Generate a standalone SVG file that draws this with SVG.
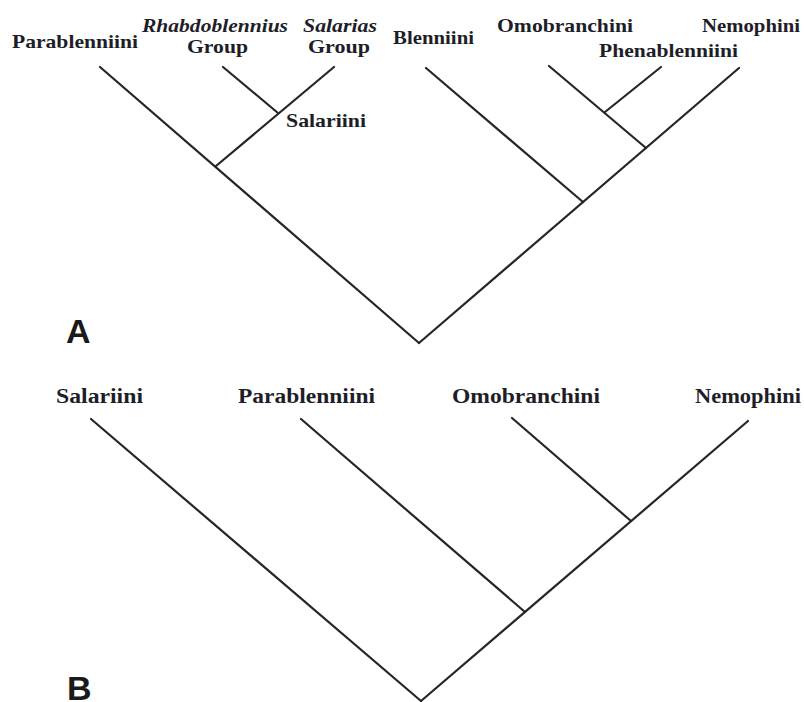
<svg xmlns="http://www.w3.org/2000/svg" width="804" height="702" viewBox="0 0 804 702">
<style>
.lbl{font-family:"Liberation Serif","Times New Roman",serif;font-weight:bold;fill:#1e1e28;text-anchor:start}
.a{font-size:19px}
.b{font-size:20.5px}
.it{font-style:italic}
.pan{font-family:"Liberation Sans",Arial,sans-serif;font-weight:bold;font-size:34px;fill:#1a1a1a}
.br{stroke:#262626;stroke-width:2.2;stroke-linecap:round;fill:none}
</style>
<rect width="804" height="702" fill="#ffffff"/>
<g id="connectors">
  <!-- Tree A -->
  <line class="br" x1="100" y1="67" x2="419" y2="343"/>
  <line class="br" x1="334" y1="67" x2="216" y2="166"/>
  <line class="br" x1="223" y1="67" x2="278" y2="113"/>
  <line class="br" x1="739" y1="68" x2="419" y2="343"/>
  <line class="br" x1="426" y1="68" x2="583" y2="202"/>
  <line class="br" x1="549" y1="66" x2="646" y2="148"/>
  <line class="br" x1="661" y1="67" x2="605" y2="112"/>
  <!-- Tree B -->
  <line class="br" x1="91" y1="419" x2="421" y2="701"/>
  <line class="br" x1="748" y1="421" x2="421" y2="701"/>
  <line class="br" x1="301" y1="419" x2="525" y2="612"/>
  <line class="br" x1="512" y1="418" x2="631" y2="521"/>
</g>
<g id="panelA"><text class="pan" x="66" y="343">A</text></g>
<g id="panelB"><text class="pan" x="67" y="700">B</text></g>
<g id="A-Parablenniini"><text class="lbl a" x="12" y="48" textLength="126" lengthAdjust="spacingAndGlyphs">Parablenniini</text></g>
<g id="A-Rhabdoblennius"><text class="lbl a it" x="142" y="32" textLength="146" lengthAdjust="spacingAndGlyphs">Rhabdoblennius</text><text class="lbl a" x="187" y="53" textLength="61" lengthAdjust="spacingAndGlyphs">Group</text></g>
<g id="A-Salarias"><text class="lbl a it" x="303" y="32" textLength="74" lengthAdjust="spacingAndGlyphs">Salarias</text><text class="lbl a" x="308" y="53" textLength="62" lengthAdjust="spacingAndGlyphs">Group</text></g>
<g id="A-Salariini"><text class="lbl a" x="286" y="127" textLength="80" lengthAdjust="spacingAndGlyphs">Salariini</text></g>
<g id="A-Blenniini"><text class="lbl a" x="393" y="44" textLength="81" lengthAdjust="spacingAndGlyphs">Blenniini</text></g>
<g id="A-Omobranchini"><text class="lbl a" x="497" y="32" textLength="136" lengthAdjust="spacingAndGlyphs">Omobranchini</text></g>
<g id="A-Nemophini"><text class="lbl a" x="702" y="32" textLength="98" lengthAdjust="spacingAndGlyphs">Nemophini</text></g>
<g id="A-Phenablenniini"><text class="lbl a" x="599" y="57" textLength="139" lengthAdjust="spacingAndGlyphs">Phenablenniini</text></g>
<g id="B-Salariini"><text class="lbl b" x="56" y="403" textLength="87" lengthAdjust="spacingAndGlyphs">Salariini</text></g>
<g id="B-Parablenniini"><text class="lbl b" x="238" y="403" textLength="137" lengthAdjust="spacingAndGlyphs">Parablenniini</text></g>
<g id="B-Omobranchini"><text class="lbl b" x="452" y="403" textLength="148" lengthAdjust="spacingAndGlyphs">Omobranchini</text></g>
<g id="B-Nemophini"><text class="lbl b" x="695" y="403" textLength="106" lengthAdjust="spacingAndGlyphs">Nemophini</text></g>
</svg>
